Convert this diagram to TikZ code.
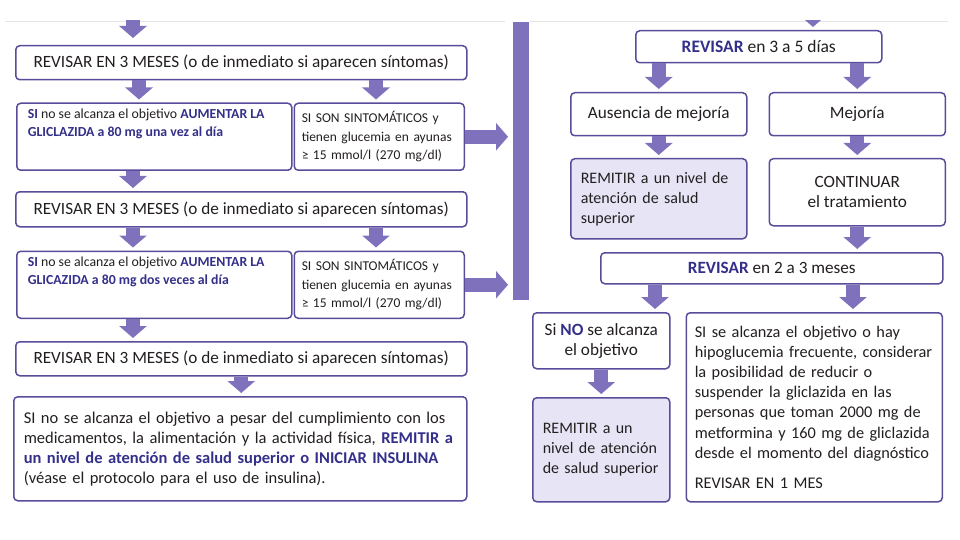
\documentclass[tikz,border=0pt]{standalone}
\usepackage{fontspec}
\setmainfont{Carlito}
\usepackage{xcolor}
\usepackage{tikz}
\usetikzlibrary{arrows.meta, positioning}
\definecolor{framepurple}{RGB}{88,76,155}
\definecolor{arrowpurple}{RGB}{128,113,189}
\definecolor{boldpurple}{RGB}{52,48,138}
\definecolor{remitfill}{RGB}{231,229,245}
\definecolor{textgray}{RGB}{35,31,32}
\newcommand{\hlp}[1]{\textbf{\color{boldpurple}#1}}

\begin{document}
\begin{tikzpicture}[x=1pt, y=-1pt]
    % Styles
    \tikzstyle{box} = [rectangle, draw=framepurple, line width=1.5pt, fill=white,
        rounded corners=4pt, anchor=north west, text=textgray, inner sep=0pt]
    \tikzstyle{revbox} = [box, minimum width=451pt, minimum height=34pt,
        font=\fontsize{17.2}{20}\selectfont]
    \tikzstyle{glicbox} = [box, inner xsep=11pt, inner ysep=6pt,
        font=\fontsize{13.8}{18}\selectfont]
    \tikzstyle{sympbox} = [box, text width=155pt, inner xsep=7.5pt, minimum height=67pt,
        align=left, font=\fontsize{13.5}{18.5}\selectfont]
    \tikzstyle{smallbox} = [box, minimum width=176pt, align=center,
        font=\fontsize{17.2}{20}\selectfont]
    \tikzstyle{leftbox} = [box, align=left, inner xsep=10pt,
        font=\fontsize{16}{20}\selectfont]
    \tikzstyle{arrow} = [line width=14pt, arrowpurple, -{Triangle[width=27pt,length=12pt]},
        shorten >=3pt]

    \useasboundingbox (0,0) rectangle (960,540);
    \draw [black!10, line width=0.8pt] (5,21) -- (505,21) (530,21) -- (948,21);

    % Left column nodes
    \node [revbox] (rev1) at (15,45) {REVISAR EN 3 MESES (o de inmediato si aparecen síntomas)};
    \node [glicbox, below=22pt of rev1.south west, anchor=north west, xshift=1pt] (glic1)
        {\parbox[c][55pt][t]{253pt}{\raggedright \hlp{SI} no se alcanza el objetivo \hlp{AUMENTAR LA}\\
        \hlp{GLICLAZIDA a 80 mg una vez al día}}};
    \node [sympbox, right=1pt of glic1.north east, anchor=north west] (symp1)
        {SI SON SINTOMÁTICOS y\\tienen glucemia en ayunas\\≥ 15 mmol/l (270 mg/dl)};
    \node [revbox, below=20pt of glic1.south west, anchor=north west, xshift=-1pt, minimum height=35pt] (rev2)
        {REVISAR EN 3 MESES (o de inmediato si aparecen síntomas)};
    \node [glicbox, below=23pt of rev2.south west, anchor=north west, xshift=1pt] (glic2)
        {\parbox[c][55pt][t]{253pt}{\raggedright \hlp{SI} no se alcanza el objetivo \hlp{AUMENTAR LA}\\
        \hlp{GLICAZIDA a 80 mg dos veces al día}}};
    \node [sympbox, right=1pt of glic2.north east, anchor=north west] (symp2)
        {SI SON SINTOMÁTICOS y\\tienen glucemia en ayunas\\≥ 15 mmol/l (270 mg/dl)};
    \node [revbox, below=22pt of glic2.south west, anchor=north west, xshift=-1pt] (rev3)
        {REVISAR EN 3 MESES (o de inmediato si aparecen síntomas)};
    \node [leftbox, text width=433pt, minimum height=104pt, font=\fontsize{16.5}{20}\selectfont] (final) at (13,396)
        {SI no se alcanza el objetivo a pesar del cumplimiento con los\\
        medicamentos, la alimentación y la actividad física, \hlp{REMITIR a}\\
        \hlp{un nivel de atención de salud superior o INICIAR INSULINA}\\
        (véase el protocolo para el uso de insulina).};

    % Separator bar
    \node [rectangle, fill=arrowpurple, anchor=north west, inner sep=0pt,
        minimum width=16pt, minimum height=278pt] (bar) at (513,22) {};

    % Right column nodes
    \node [smallbox, minimum width=246pt, minimum height=32pt, font=\fontsize{17.5}{20}\selectfont] (rev35) at (635,30)
        {\hlp{REVISAR} en 3 a 5 días};
    \node [smallbox, minimum height=43pt] (nomej) at (570,92) {Ausencia de mejoría};
    \node [smallbox, minimum height=43pt, right=21pt of nomej.north east, anchor=north west] (mej) {Mejoría};
    \node [leftbox, fill=remitfill, text width=156pt, minimum height=80pt] (remit1) at (570,158)
        {REMITIR a un nivel de\\atención de salud\\superior};
    \node [smallbox, minimum height=67pt, right=21pt of remit1.north east, anchor=north west] (cont)
        {CONTINUAR\\el tratamiento};
    \node [smallbox, minimum width=342pt, minimum height=31pt] (rev23) at (600,252)
        {\hlp{REVISAR} en 2 a 3 meses};
    \node [smallbox, minimum width=137pt, minimum height=56pt] (noobj) at (532,312)
        {Si \hlp{NO} se alcanza\\el objetivo};
    \node [leftbox, text width=239pt, inner xsep=8.5pt, minimum height=189pt, font=\fontsize{16.3}{20.2}\selectfont,
        right=15pt of noobj.north east, anchor=north west] (siobj)
        {SI se alcanza el objetivo o hay\\hipoglucemia frecuente, considerar\\la posibilidad de reducir o\\
        suspender la gliclazida en las\\personas que toman 2000 mg de\\metformina y 160 mg de gliclazida\\
        desde el momento del diagnóstico\\[10pt]REVISAR EN 1 MES};
    \node [leftbox, fill=remitfill, text width=117pt, minimum height=104pt] (remit2) at (532,397)
        {REMITIR a un\\nivel de atención\\de salud superior};

    % Arrow columns
    \coordinate (inL) at (133,0);
    \coordinate (inR) at (813,0);
    \coordinate (colA) at (139,0);
    \coordinate (colB) at (133,0);
    \coordinate (colC) at (376,0);
    \coordinate (colD) at (655,0);
    \coordinate (colE) at (853,0);

    % Incoming arrows
    \begin{scope}
        \clip (0,21) rectangle (960,540);
        \draw [arrow, shorten >=7pt] (inL) -- (rev1.north -| inL);
        \draw [arrow] (inR) -- (rev35.north -| inR);
    \end{scope}

    % Left column arrows
    \draw [arrow] (rev1.south -| colA) -- (glic1.north -| colA);
    \draw [arrow] (rev1.south -| colC) -- (symp1.north -| colC);
    \draw [arrow] (glic1.south -| colB) -- (rev2.north -| colB);
    \draw [arrow] (rev2.south -| colB) -- (glic2.north -| colB);
    \draw [arrow] (rev2.south -| colC) -- (symp2.north -| colC);
    \draw [arrow] (glic2.south -| colB) -- (rev3.north -| colB);
    \draw [arrow] (rev3.south) -- (final.north -| rev3.south);
    \draw [arrow, shorten >=5pt] (symp1.east) -- (symp1.east -| bar.west);
    \draw [arrow, shorten >=5pt] (symp2.east) -- (symp2.east -| bar.west);

    % Right column arrows
    \draw [arrow] (rev35.south -| nomej) -- (nomej);
    \draw [arrow] (rev35.south -| mej) -- (mej);
    \draw [arrow] (nomej) -- (remit1);
    \draw [arrow] (mej) -- (cont);
    \draw [arrow] (cont) -- (rev23.north -| cont);
    \draw [arrow] (rev23.south -| colD) -- (noobj.north -| colD);
    \draw [arrow] (rev23.south -| colE) -- (siobj.north -| colE);
    \draw [arrow] (noobj) -- (remit2);
\end{tikzpicture}
\end{document}
